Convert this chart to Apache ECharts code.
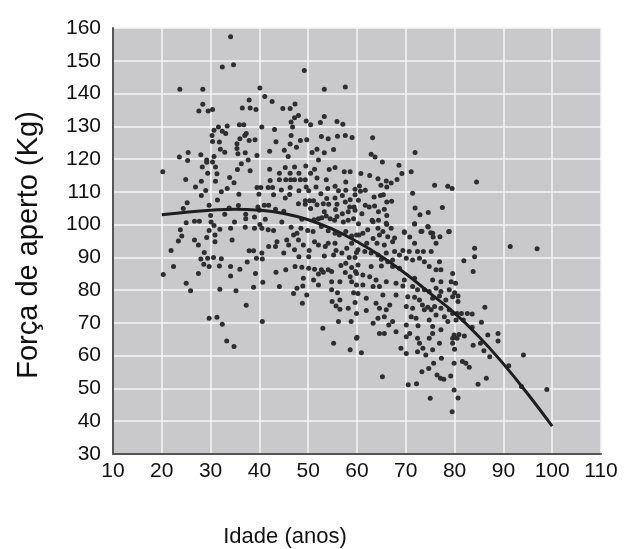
<!DOCTYPE html>
<html><head><meta charset="utf-8">
<script src="https://cdn.jsdelivr.net/npm/echarts@6/dist/echarts.min.js"></script>
<style>html,body{margin:0;padding:0;background:#fff}#c{width:633px;height:549px}</style>
</head><body><div id="c"></div>
<script>
const xTicks = [10,20,30,40,50,60,70,80,90,100,110];
const yTicks = [30,40,50,60,70,80,90,100,110,120,130,140,150,160];
const xTitle = "Idade (anos)";
const yTitle = "Força de aperto (Kg)";

// scatter: age, grip strength
const ages = [
34.1,32.4,34.7,23.7,28.4,40.1,28.4,27.6,29.5,30.4,37.9,36.5,38.1,39.3,31.6,30.7,32.4,33.1,33.4,35.9,36.8,30.3,30.4,31.8,36,37,37.9,39.1,37.3,35.4,35.4,32,32.9,35.6,37.1,39.5,23.6,25.4,25.3,28,29.2,30.7,30.4,29.2,28.3,31,36.3,37.7,35.5,38.1,20.2,29.4,31.3,24.9,28.1,31,33.9,34.8,26.9,29,33.4,32.2,39.5,40.3,35.8,39.9,28.1,31.4,25.2,29.7,33.8,35.7,24.4,39.7,26.7,27.7,25,30,30.1,32.9,34.9,37.2,37.2,39,40.1,
49.2,53.3,57.6,41.1,42.6,44.8,46.3,47.3,48,47.2,46.5,49.6,50.5,52.5,53.3,55.9,57.1,40.5,43.1,46.8,46.5,52.7,54.1,56,57.6,59,43.4,48.4,49.7,46.3,47.6,45.1,42.1,50.8,51.8,53.3,55.2,45.9,52.1,42.1,44.1,45.3,46.3,47.2,48.1,49.5,50.5,51.3,54.3,55.5,57.4,58.6,42.2,44.1,45.4,46.4,47.2,48.4,49.4,51.8,53.7,57.7,41.8,42.7,44.5,46.3,48.1,49.6,50.1,51.6,54,55.5,56.2,57.7,59.6,42.9,45.3,46.2,49.4,50.3,51.1,52.6,53.8,55.5,57,58.6,59.6,41,41.9,48,49.4,51.8,53.1,54.2,55.9,57.6,58.5,59.4,40,43.3,45,50.5,53.3,55.6,57,58.2,59.6,41.2,44.6,48.7,51.2,52.1,52.8,53.7,54.5,55.4,55.9,57.2,58.2,59.3,60.3,
63.2,71.9,62.9,63.7,65.2,68.6,60.8,62.6,69.2,71.1,64.3,66,67,68.2,64.9,66.1,60.5,75.9,78.6,79.5,84.5,61.7,60.7,63.5,64.8,65.4,71.4,60.3,61.7,62.5,63.6,66.1,67.1,65.6,64.4,71.9,74.6,77.5,72.9,61,66.1,63.1,64.4,66.1,71.8,74.6,78.8,69.7,70.8,73.3,75.1,75.6,67.7,
30.7,29.7,31.9,37.1,39,34.1,23.8,24.1,23.4,30.9,29.2,30.9,26.7,27.5,34.4,21.9,28.7,28,29.4,30.6,32.2,37.9,38.8,39.4,40.6,37.5,22.4,28.6,29.7,31.8,34.1,36,20.3,27.5,34.1,39.2,40.7,25,25.9,31.9,35.2,38.8,37.3,29.7,31.3,32.4,33.3,34.8,40.6,
40.5,41.8,42.9,46.5,47.7,48.5,49.9,51,52.7,54.1,55.5,56.4,57.7,58.9,59.9,43.6,45.6,47,48,46,41.9,43.3,47.2,49,50.2,51.3,52.1,53.5,54.1,55.5,55.7,56.9,57.9,58.9,59.9,40.5,45,50.1,48.1,53.3,55.2,58.4,59.6,47.3,48.7,50.1,51.3,52.7,54.1,43.4,45.4,52.1,53.1,54.8,56.7,57.7,58.9,59.7,57.6,49,51.1,44.1,52.1,54.8,56.5,58.6,58.9,59.9,47.7,48.9,47,49.7,54.8,56,59.3,48.8,54.9,56.5,55.7,56.5,58.2,59.6,56.2,58.8,53,59.9,55.2,58.6,
63.3,64.3,66,62.2,61.2,65.3,67,69.7,71.8,73.1,74.5,75.5,78.9,60.4,63.3,64.6,66.3,64.1,62,65.6,67.3,71.8,76.2,77,69.4,70.7,72.4,73.6,75.2,66,67.7,60.2,61.6,62.9,64.3,65,66.3,67.3,68.7,70.1,71.4,72.8,73.8,76.9,60.2,62.9,65,67.3,68.7,74.8,76.2,77.2,79.6,61.2,62.6,63.9,66,69.7,71.8,75.5,77.2,79.3,59.9,61.2,63.3,64.6,68,69.4,71.4,72.4,73.8,74.8,76.2,77.2,78.9,60.2,61.9,65.3,68,70.4,71.8,72.8,75.5,76.9,78.2,79.6,63.9,64.6,66,66.7,73.4,73.8,74.5,75.2,75.9,71.4,70.1,77.2,78.9,79.6,59.9,61.9,64.3,65.6,67.3,71.1,72.1,74.8,76.2,77.9,78.6,80.3,63.3,66.5,70.1,72.5,75.5,77.2,64.6,65.6,68,70.8,75.5,60,70.1,72.4,74.8,72.8,76.9,79.6,69,79.6,73.5,75.5,70.1,72.4,74.1,
84.1,84.1,81.9,83.8,91.4,96.9,80.2,80,80.7,80.7,86.2,80.5,81.4,82.6,83.6,81.8,85.5,83.6,79.9,80.9,80.5,82,86.8,88.9,88.9,83.8,85.3,86,80,87.2,94.1,81.6,82.3,83,79.9,91.1,86.5,84.8,79.9,93.7,98.9,80.7,79.5,
65.2,70.5,72.2,75,77.1,77.8,76.4,74.7,73.3,75.7,77.3,79.2,60.9
];
const grips = [
157.3,148.1,148.8,141.3,141.3,141.7,136.7,134.7,134.7,135.1,138,135.6,135.6,135.1,129.8,128.8,128.5,127.8,130.1,130.5,130.5,127.2,125.4,125.2,126.2,127.2,125.7,125.9,127.8,124.7,123.2,123,122.1,121.6,121.9,121.1,120.6,122,119.6,121.3,119.7,120.8,119.1,119,117.6,117.6,118.6,119.7,116.8,116.4,116.1,115.7,115.5,113.8,113.2,113.2,114.4,112.8,111.5,110.4,111,110,111.3,111.3,109.3,109.3,108.9,107.5,106.7,105.9,105.1,105.8,104.9,105.4,101,101,100.6,102.8,100.8,103.2,100.8,103.2,101.8,102.3,100,
147,141.3,142,139.1,137.6,135.4,135.4,136.8,133.3,132.6,131.3,131.6,130.5,131.2,133,131.5,130.6,129.8,129,129.8,127.2,126.9,126.2,127,127.2,126.6,125.3,125.7,125.9,124.6,123.6,122.7,122.4,122,123,121.9,122.9,120.8,119.7,116.9,115.7,117.4,115.7,117.6,115.7,117.9,115.7,116.9,116.8,117.4,116.1,116.1,113.5,113.7,113.7,113.7,113.7,113.7,113.7,114.2,113.7,113,111.3,111.3,110.6,111.3,110.3,111.5,110.3,111.5,111,111.7,110.3,110.5,110.8,109.1,108.1,109.2,107.3,107.3,107.3,109.4,108,108.1,108.9,107.6,109.1,105.9,105.9,106.4,106.2,106.1,106.4,106.2,106.2,106.9,105.4,105.4,104.4,104.7,104.1,104.9,103.9,104.6,103.3,103.9,104.4,101.6,100.8,101.6,101.5,101.8,102.1,102.6,101.8,101.3,102.5,100.8,101.3,101.8,100.3,
126.5,122,121.5,120.6,119.1,118.1,115.6,115,115.6,116.1,114,113.3,112.7,113.8,112,111.5,111.8,112,111.7,111,113,110.5,110.2,108.4,108.9,109.1,109.6,107.4,105.9,105.4,105.7,106.9,107.1,104.7,103.9,105.1,103.7,105.2,103,103.3,102.8,101.3,101.3,100,100.3,99.3,97.8,97.8,96.2,98,97.5,96.2,95.9,
99.7,98.2,98.6,99.2,98.9,98.9,98.4,96.5,95,96.8,96.1,94.8,95.3,93.8,95.3,92.1,91.5,89.5,89.7,90,89.6,92,92,89.7,89.5,88.6,87.2,87.9,87.2,87.4,87.2,86.4,84.8,85.1,84.3,85.1,82.4,82.1,79.8,80.3,79.8,80.9,75.4,71.4,71.7,69.6,64.5,62.8,70.4,
98.9,98.4,98.2,99.2,97.4,98.9,98.2,97.9,99.4,98.1,97.4,96.8,97.9,96.5,96.8,94.8,95.3,96.8,95.3,93.8,93.3,93.3,92.3,93.8,92.1,94.8,93.8,93.3,94.3,94.3,92.1,91.3,92.8,94.3,91.5,91.3,91.3,90.2,90.2,90.4,90.7,90,90,87.2,87,86.7,86.4,86.2,86.2,85.5,86.2,84.9,85.5,85.7,87.5,88.2,86.9,85.7,85.4,83.6,83.1,81.1,81.6,82.6,82.6,84.1,82.6,85.1,80.6,81.3,79,78.5,80.1,79.2,79.2,76,76.5,77,75.2,74.2,74.5,76.2,70.4,70.4,68.4,65.3,63.8,61.8,
100.9,98.9,100.4,98.4,97.4,97.9,98.9,97.6,100.2,97.9,99.4,97.4,97.9,96.8,95.8,96.8,96.3,94.3,94.3,93.8,94.8,94.3,94.3,96.3,92.1,91.8,91.8,91.8,91.8,91.3,91.8,92.3,91.8,91.3,90.7,89.4,88.7,89.2,90.7,89.7,89.2,89.7,88.7,88.7,87.7,87.2,87.4,87.2,86.7,87.2,86.2,86.2,85.1,84.6,84.1,83.1,82.6,83.1,83.6,83.1,82.6,82.6,81.6,81.6,81.1,81.1,82.1,81.3,81.1,80.1,80.1,79.6,80.6,79.6,80.1,79,77.5,78.5,78.5,78,77.8,77,77.5,78.2,77,78,76,74.5,74,75.5,75.5,74,74.8,74,75,74.5,75,74.5,74,72.9,72.9,73.8,71.4,71.9,70.4,71.9,71.4,70.9,72.4,71.9,70.4,70.9,69.9,69.4,69.4,69.1,68.9,67.9,66.8,66.8,67.3,66.8,66.8,65.6,65.8,65.3,65.3,63.8,63.8,65.3,62.3,63.8,62.3,61.8,60.7,61.2,60.2,
92.8,90.2,89,85.7,93.3,92.6,82.1,79.2,78.2,76.5,74.8,72.9,72.9,72.9,72.7,70.9,70.2,68.7,66.3,66.5,65.3,66,66.3,66.8,64.5,63.2,63.8,61.5,62,59.7,60.2,58.2,57.7,56.5,57.7,56.9,53.1,51.3,49.5,50.6,49.7,47.1,42.9,
53.6,51.1,51.4,47,53.1,52.8,54.1,56.1,55.1,57.7,59.2,53.8,60.9
];

// fitted curve
const curveAges = [20,25,30,35,40,45,50,55,60,65,70,75,80,85,90,95,100];
const curveGrips = [103,103.8,104.4,104.7,104.4,103.4,101.5,98.6,94.8,90.3,85,79,73,65.8,57.5,48.3,38.5];

const pts = ages.map((a,i)=>[a,grips[i]]);
const curve = curveAges.map((a,i)=>[a,curveGrips[i]]);

const chart = echarts.init(document.getElementById('c'), null, {renderer:'canvas'});
const ff = 'Liberation Sans, Arial, sans-serif';
const lblFont = {fontFamily:ff, fontSize:21, color:'#111'};
chart.setOption({
  animation:false,
  backgroundColor:'#ffffff',
  grid:{left:113,right:32,top:28,bottom:95,show:true,backgroundColor:'#c9c9cb',borderWidth:0},
  xAxis:{type:'value',min:xTicks[0],max:xTicks[xTicks.length-1],interval:10,
    axisLine:{show:true,onZero:false,lineStyle:{color:'#555555',width:2}},
    axisTick:{show:false},
    splitLine:{show:true,lineStyle:{color:'#f4f4f4',width:1.5}},
    axisLabel:Object.assign({margin:7},lblFont)},
  yAxis:{type:'value',min:yTicks[0],max:yTicks[yTicks.length-1],interval:10,
    axisLine:{show:true,onZero:false,lineStyle:{color:'#555555',width:2}},
    axisTick:{show:false},
    splitLine:{show:true,lineStyle:{color:'#f4f4f4',width:1.5}},
    axisLabel:Object.assign({margin:12},lblFont)},
  graphic:[
    {type:'text',x:285,y:537,style:{text:xTitle,fontFamily:ff,fontSize:22,fill:'#111',align:'center',verticalAlign:'middle'}},
    {type:'text',x:29,y:245,rotation:Math.PI/2,style:{text:yTitle,fontFamily:ff,fontSize:29,fill:'#111',align:'center',verticalAlign:'middle'}}
  ],
  series:[
    {type:'scatter',data:pts,symbolSize:5,itemStyle:{color:'#2e2e2e',opacity:1},z:2},
    {type:'line',data:curve,smooth:true,symbol:'none',lineStyle:{color:'#1e1e1e',width:3},z:3}
  ]
});
</script></body></html>
